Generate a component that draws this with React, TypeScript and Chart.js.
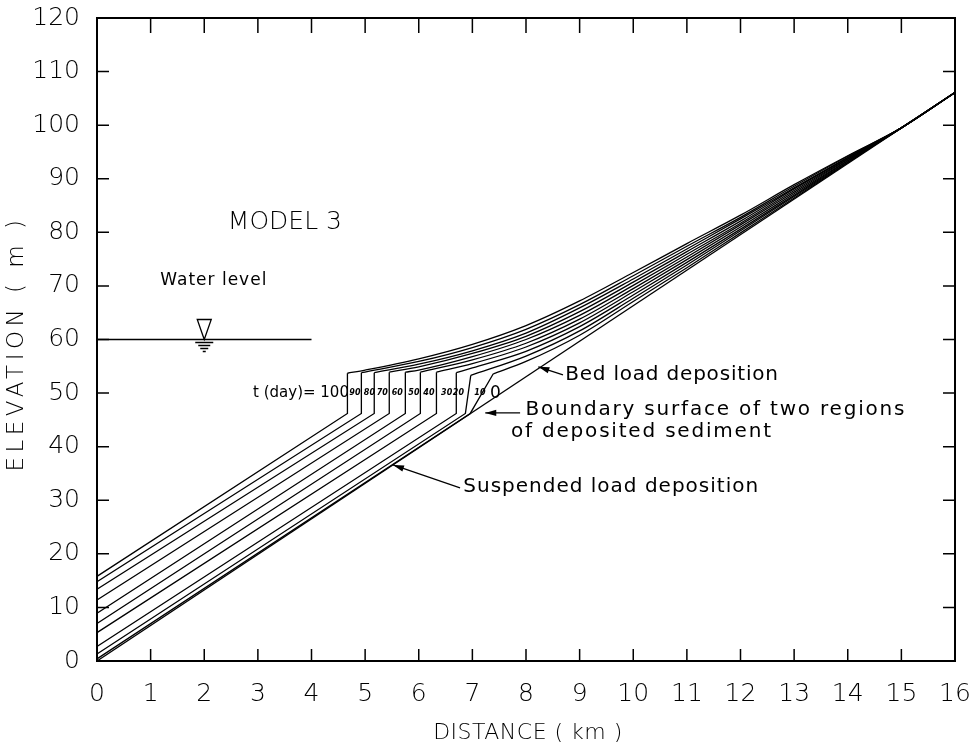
import React, { useEffect, useRef } from 'react';
import { Chart, registerables } from 'chart.js';

Chart.register(...registerables);

// ---------- data ----------
const times = [100, 90, 80, 70, 60, 50, 40, 30, 20, 10];
// elevation of each suspended-load surface at x = 0 km
const interceptAtZero = [15.8, 14.8, 13.4, 11.4, 8.9, 7.0, 5.3, 2.7, 1.3, 0.4];
// delta front: foot and crest
const frontBaseX = [4.67, 4.93, 5.17, 5.45, 5.75, 6.03, 6.33, 6.70, 6.87, 6.96];
const frontBaseElev = [46.2, 46.2, 46.2, 46.2, 46.2, 46.2, 46.2, 46.2, 46.2, 46.2];
const frontTopX = [4.67, 4.93, 5.17, 5.45, 5.75, 6.03, 6.33, 6.70, 6.97, 7.39];
const frontTopElev = [53.7, 53.8, 53.8, 53.9, 53.9, 53.9, 53.9, 53.8, 53.3, 53.6];
// bed-load (topset) profiles at these distances
const profileX = [5, 6, 7, 8, 9, 10, 11, 12, 13, 14, 15, 16];
const profile100 = [54.3, 56.4, 59.1, 62.6, 67.2, 72.5, 77.9, 83.2, 88.9, 94.3, 99.5, 106.1];
const profile90 = [null, 55.9, 58.5, 61.9, 66.5, 71.9, 77.4, 82.8, 88.6, 94.2, 99.5, 106.1];
const profile80 = [null, 55.4, 57.9, 61.2, 65.9, 71.3, 76.9, 82.5, 88.3, 94.0, 99.5, 106.1];
const profile70 = [null, 54.9, 57.4, 60.6, 65.2, 70.7, 76.4, 82.1, 88.1, 93.9, 99.5, 106.1];
const profile60 = [null, 54.3, 56.8, 60.0, 64.5, 70.1, 75.9, 81.7, 87.8, 93.7, 99.5, 106.1];
const profile50 = [null, null, 56.2, 59.3, 63.8, 69.5, 75.4, 81.4, 87.5, 93.6, 99.5, 106.1];
const profile40 = [null, null, 55.5, 58.6, 63.1, 68.9, 74.9, 81.0, 87.2, 93.4, 99.5, 106.1];
const profile30 = [null, null, 54.7, 57.8, 62.4, 68.3, 74.4, 80.6, 86.9, 93.3, 99.5, 106.1];
const profile20 = [null, null, null, 56.9, 61.6, 67.7, 73.9, 80.3, 86.7, 93.1, 99.5, 106.1];
const profile10 = [null, null, null, 55.9, 60.8, 67.1, 73.4, 79.9, 86.4, 93.0, 99.5, 106.1];
const profiles = [profile100, profile90, profile80, profile70, profile60, profile50, profile40, profile30, profile20, profile10];
// original bed (t = 0)
const bedX = [0, 16];
const bedElev = [0, 106.1];
const waterLevel = 60;
const waterLevelX = [0, 4];

const xTickLabels = ['0', '1', '2', '3', '4', '5', '6', '7', '8', '9', '10', '11', '12', '13', '14', '15', '16'];
const yTickLabels = ['0', '10', '20', '30', '40', '50', '60', '70', '80', '90', '100', '110', '120'];

// ---------- styling ----------
const FONT = "'DejaVu Sans', sans-serif";
const INK = '#000';

function text(ctx: any, s: string, x: number, y: number, size: number, o: any = {}) {
  ctx.save();
  ctx.font = `${o.italic ? 'italic ' : ''}${o.weight || 400} ${size}px ${FONT}`;
  ctx.textAlign = o.align || 'left';
  ctx.textBaseline = o.baseline || 'middle';
  ctx.letterSpacing = (o.spacing || 0) + 'px';
  ctx.fillStyle = INK;
  ctx.fillText(s, x, y);
  ctx.restore();
}

function arrowHead(ctx: any, x0: number, y0: number, x1: number, y1: number) {
  const ang = Math.atan2(y1 - y0, x1 - x0);
  const L = 11, W = 3.2;
  ctx.beginPath();
  ctx.moveTo(x1, y1);
  ctx.lineTo(x1 - L * Math.cos(ang) + W * Math.sin(ang), y1 - L * Math.sin(ang) - W * Math.cos(ang));
  ctx.lineTo(x1 - L * Math.cos(ang) - W * Math.sin(ang), y1 - L * Math.sin(ang) + W * Math.cos(ang));
  ctx.closePath();
  ctx.fill();
}

const decorPlugin = {
  id: 'decor',
  afterDraw(chart: any) {
    const { ctx, chartArea: a, scales } = chart;
    const xs = scales.x, ys = scales.y;
    const px = (v: number) => xs.getPixelForValue(v);
    const py = (v: number) => ys.getPixelForValue(v);
    ctx.save();
    ctx.strokeStyle = INK;
    ctx.fillStyle = INK;
    ctx.lineWidth = 2;
    ctx.strokeRect(a.left, a.top, a.right - a.left, a.bottom - a.top);
    ctx.lineWidth = 1.5;
    ctx.beginPath();
    xs.ticks.forEach((t: any) => {
      if (t.value <= xs.min || t.value >= xs.max) return;
      const X = px(t.value);
      ctx.moveTo(X, a.bottom); ctx.lineTo(X, a.bottom - 12);
      ctx.moveTo(X, a.top); ctx.lineTo(X, a.top + 15);
    });
    ys.ticks.forEach((t: any) => {
      if (t.value <= ys.min || t.value >= ys.max) return;
      const Y = py(t.value);
      ctx.moveTo(a.left, Y); ctx.lineTo(a.left + 12, Y);
      ctx.moveTo(a.right, Y); ctx.lineTo(a.right - 12, Y);
    });
    ctx.stroke();

    // axis titles
    text(ctx, 'DISTANCE ( km )', (a.left + a.right) / 2 + 2, 733, 22, { align: 'center', spacing: 0.5, weight: 300 });
    ctx.save();
    ctx.translate(17, (a.top + a.bottom) / 2 + 4);
    ctx.rotate(-Math.PI / 2);
    text(ctx, 'ELEVATION ( m )', 0, 0, 23, { align: 'center', spacing: 4.5, weight: 300 });
    ctx.restore();

    // water level symbol
    const wx = px(2), wy = py(waterLevel);
    ctx.lineWidth = 1.3;
    ctx.beginPath();
    ctx.moveTo(wx, wy);
    ctx.lineTo(wx - 7, wy - 20);
    ctx.lineTo(wx + 7, wy - 20);
    ctx.closePath();
    ctx.stroke();
    ctx.beginPath();
    [[3, 9], [6, 6], [9, 4], [12, 1.5]].forEach(([dy, hw]) => {
      ctx.moveTo(wx - hw, wy + dy); ctx.lineTo(wx + hw, wy + dy);
    });
    ctx.stroke();

    // labels
    text(ctx, 'MODEL 3', px(2.44), py(80.6), 25, { baseline: 'alphabetic', weight: 300 });
    text(ctx, 'Water level', px(1.18), py(70.1), 17, { baseline: 'alphabetic', spacing: 1 });
    text(ctx, 't (day)= 100', px(2.91), py(50.0), 15);
    const smallLabelX = [4.81, 5.08, 5.32, 5.60, 5.91, 6.19, 6.52, 6.74, 7.14];
    const smallLabels = ['90', '80', '70', '60', '50', '40', '30', '20', '10'];
    smallLabels.forEach((s, i) => text(ctx, s, px(smallLabelX[i]), py(50.0), 8, { align: 'center', italic: true, weight: 700 }));
    text(ctx, '0', px(7.43), py(50.0), 17, { align: 'center' });

    text(ctx, 'Bed load deposition', px(8.73), py(53.4), 20, { spacing: 0.8 });
    text(ctx, 'Boundary surface of two regions', px(7.99), py(46.8), 20, { spacing: 1.8 });
    text(ctx, 'of deposited sediment', px(7.72), py(42.7), 20, { spacing: 1.8 });
    text(ctx, 'Suspended load deposition', px(6.83), py(32.5), 20, { spacing: 1 });

    ctx.lineWidth = 1.2;
    const leaders = [
      [8.69, 53.4, 8.23, 54.9],
      [7.89, 46.3, 7.24, 46.3],
      [6.77, 32.3, 5.52, 36.6],
    ];
    leaders.forEach(([x0, y0, x1, y1]) => {
      ctx.beginPath();
      ctx.moveTo(px(x0), py(y0));
      ctx.lineTo(px(x1), py(y1));
      ctx.stroke();
      arrowHead(ctx, px(x0), py(y0), px(x1), py(y1));
    });
    ctx.restore();
  },
};

function buildDatasets() {
  const base = { borderColor: INK, borderWidth: 1.3, pointRadius: 0, showLine: true, fill: false };
  const ds: any[] = [];
  times.forEach((t, i) => {
    ds.push({
      ...base,
      label: `front ${t}`,
      tension: 0,
      data: [
        { x: 0, y: interceptAtZero[i] },
        { x: frontBaseX[i], y: frontBaseElev[i] },
        { x: frontTopX[i], y: frontTopElev[i] },
      ],
    });
    const pts: any[] = [{ x: frontTopX[i], y: frontTopElev[i] }];
    profiles[i].forEach((v, k) => {
      if (v !== null && profileX[k] > frontTopX[i]) pts.push({ x: profileX[k], y: v });
    });
    ds.push({ ...base, label: `top ${t}`, cubicInterpolationMode: 'monotone', data: pts });
  });
  ds.push({ ...base, label: 'bed 0', tension: 0, data: bedX.map((x, k) => ({ x, y: bedElev[k] })) });
  ds.push({ ...base, label: 'water', tension: 0, data: waterLevelX.map((x) => ({ x, y: waterLevel })) });
  return ds;
}

export default function App() {
  const ref = useRef<HTMLCanvasElement>(null);
  useEffect(() => {
    if (!ref.current) return;
    const tickFont = { family: FONT, size: 25, weight: 300 as any };
    const chart = new Chart(ref.current, {
      type: 'scatter',
      data: { datasets: buildDatasets() },
      options: {
        animation: false,
        responsive: false,
        devicePixelRatio: 1,
        layout: { padding: { top: 18, right: 21, left: 0, bottom: 0 } },
        plugins: { legend: { display: false }, tooltip: { enabled: false } },
        scales: {
          x: {
            type: 'linear',
            min: 0,
            max: 16,
            ticks: {
              stepSize: 1,
              autoSkip: false,
              maxRotation: 0,
              color: INK,
              padding: 18,
              font: tickFont,
              callback: (v: any) => xTickLabels[Math.round(v)] ?? '',
            },
            grid: { display: false, drawTicks: false },
            border: { display: false },
            afterFit: (s: any) => {
              s.height = 88;
              s.paddingLeft = 0; s.paddingRight = 0; s.paddingTop = 0; s.paddingBottom = 0;
            },
          },
          y: {
            type: 'linear',
            min: 0,
            max: 120,
            ticks: {
              stepSize: 10,
              autoSkip: false,
              color: INK,
              padding: 17,
              font: tickFont,
              callback: (v: any) => yTickLabels[Math.round(v / 10)] ?? '',
            },
            grid: { display: false, drawTicks: false },
            border: { display: false },
            afterFit: (s: any) => {
              s.width = 97;
              s.paddingLeft = 0; s.paddingRight = 0; s.paddingTop = 0; s.paddingBottom = 0;
            },
          },
        },
      },
      plugins: [decorPlugin],
    });
    return () => chart.destroy();
  }, []);
  return (
    <div style={{ position: 'fixed', left: 0, top: 0, width: 976, height: 749, background: '#fff' }}>
      <canvas ref={ref} width={976} height={749} />
    </div>
  );
}
